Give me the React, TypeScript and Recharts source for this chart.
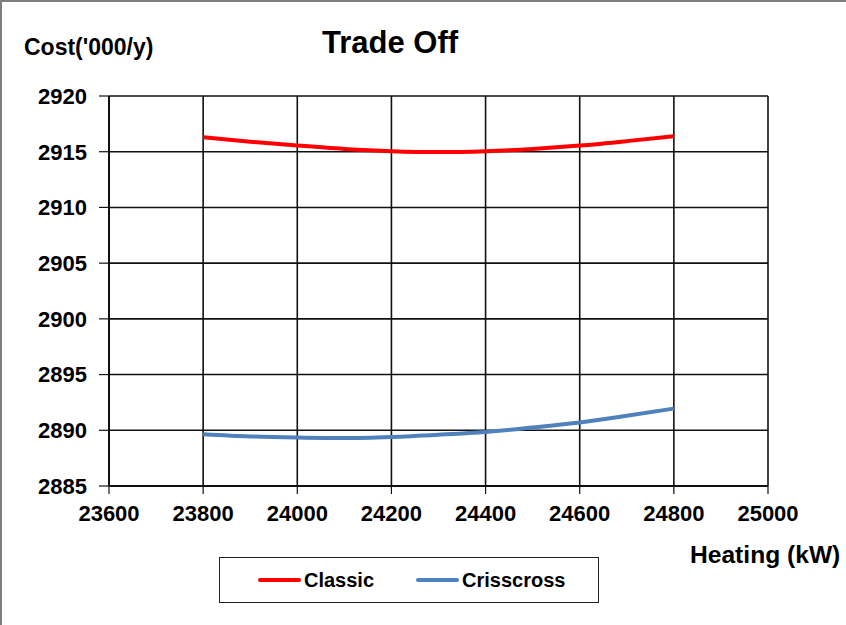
import React from "react";
import { LineChart, Line, XAxis, YAxis, CartesianGrid, Legend } from "recharts";

const heating = [23800, 23900, 24000, 24100, 24200, 24300, 24400, 24500, 24600, 24700, 24800];
const classic = [2916.3, 2915.9, 2915.55, 2915.25, 2915.05, 2914.97, 2915.05, 2915.25, 2915.55, 2915.95, 2916.4];
const crisscross = [2889.65, 2889.45, 2889.35, 2889.3, 2889.4, 2889.6, 2889.85, 2890.25, 2890.7, 2891.3, 2891.95];
const xTicks = [23600, 23800, 24000, 24200, 24400, 24600, 24800, 25000];
const yTicks = [2885, 2890, 2895, 2900, 2905, 2910, 2915, 2920];

const data = heating.map((h, i) => ({ h, classic: classic[i], crisscross: crisscross[i] }));

const FONT = "'Liberation Sans', Arial, sans-serif";

const renderLegend = (props: any) => {
  const { payload } = props;
  return (
    <div
      style={{
        width: 380,
        height: 46,
        border: "1.5px solid #222",
        boxSizing: "border-box",
        display: "flex",
        alignItems: "center",
        paddingLeft: 38,
        fontFamily: FONT,
        fontWeight: "bold",
        fontSize: 20,
        color: "#000",
      }}
    >
      {payload.map((p: any, i: number) => (
        <div key={i} style={{ display: "flex", alignItems: "center", marginRight: i === 0 ? 42 : 0 }}>
          <div style={{ width: 43, height: 4, background: p.color, borderRadius: 2, marginRight: 3 }} />
          <span>{p.value}</span>
        </div>
      ))}
    </div>
  );
};

export default function App() {
  return (
    <div style={{ position: "absolute", left: 0, top: 0, width: 846, height: 625, background: "#fff" }}>
      <div
        style={{
          position: "absolute",
          left: 0,
          top: 0,
          width: 846,
          height: 625,
          borderLeft: "2.5px solid #7f7f7f",
          borderTop: "2.5px solid #7f7f7f",
          boxSizing: "border-box",
          pointerEvents: "none",
        }}
      />
      <LineChart
        width={846}
        height={625}
        data={data}
        margin={{ top: 96, right: 78, bottom: 61, left: 9 }}
        style={{ fontFamily: FONT }}
      >
        <CartesianGrid stroke="#111" strokeWidth={1.6} vertical horizontal />
        <XAxis
          dataKey="h"
          type="number"
          domain={[23600, 25000]}
          ticks={xTicks}
          interval={0}
          height={30}
          tickSize={8}
          tickMargin={11}
          axisLine={{ stroke: "#111", strokeWidth: 2 }}
          tickLine={{ stroke: "#111", strokeWidth: 1.2 }}
          tick={{ fill: "#000", fontSize: 22, fontWeight: "bold", fontFamily: FONT }}
        />
        <YAxis
          type="number"
          domain={[2885, 2920]}
          ticks={yTicks}
          interval={0}
          width={100}
          tickSize={10}
          tickMargin={12}
          axisLine={{ stroke: "#111", strokeWidth: 2 }}
          tickLine={{ stroke: "#111", strokeWidth: 1.2 }}
          tick={{ fill: "#000", fontSize: 22, fontWeight: "bold", fontFamily: FONT }}
        />
        <Legend
          content={renderLegend}
          wrapperStyle={{ position: "absolute", left: 219, top: 557, width: 382, height: 48 }}
        />
        <Line
          type="monotone"
          dataKey="classic"
          name="Classic"
          stroke="#FF0000"
          strokeWidth={4}
          dot={false}
          isAnimationActive={false}
        />
        <Line
          type="monotone"
          dataKey="crisscross"
          name="Crisscross"
          stroke="#4F81BD"
          strokeWidth={4}
          dot={false}
          isAnimationActive={false}
        />
      </LineChart>
      <div
        style={{
          position: "absolute",
          left: 322,
          top: 25,
          fontFamily: FONT,
          fontWeight: "bold",
          fontSize: 31,
          lineHeight: "36px",
          color: "#000",
          whiteSpace: "nowrap",
        }}
      >
        Trade Off
      </div>
      <div
        style={{
          position: "absolute",
          left: 24,
          top: 33,
          fontFamily: FONT,
          fontWeight: "bold",
          fontSize: 23,
          lineHeight: "28px",
          color: "#000",
          whiteSpace: "nowrap",
        }}
      >
        Cost('000/y)
      </div>
      <div
        style={{
          position: "absolute",
          left: 690,
          top: 540,
          fontFamily: FONT,
          fontWeight: "bold",
          fontSize: 24.6,
          lineHeight: "30px",
          color: "#000",
          whiteSpace: "nowrap",
        }}
      >
        Heating (kW)
      </div>
    </div>
  );
}
